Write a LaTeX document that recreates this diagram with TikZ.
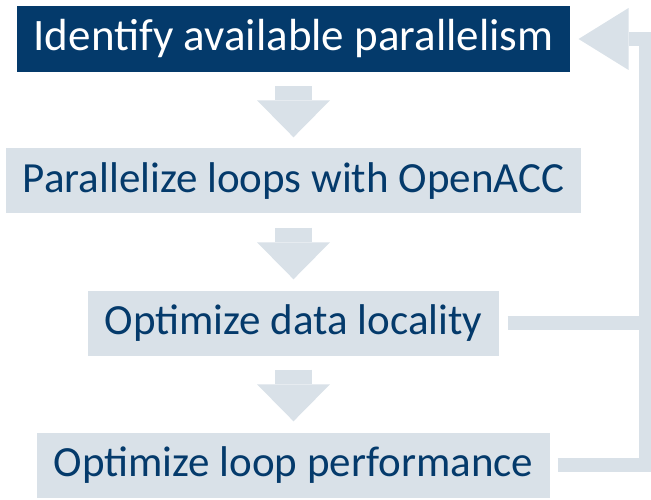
\documentclass[tikz,border=0pt]{standalone}
\usepackage{fontspec}
\setmainfont{Carlito}
\usepackage{xcolor}
\usetikzlibrary{positioning, arrows.meta}
\definecolor{navy}{RGB}{4,58,107}
\definecolor{pale}{RGB}{217,225,232}

\begin{document}
\begin{tikzpicture}[x=1pt, y=1pt, node distance=142pt, auto]
    % Styles
    \tikzset{
        start/.style = {rectangle, fill=navy, text=white, font=\fontsize{45}{48}\selectfont, inner xsep=17pt, minimum height=66pt},
        stage/.style = {rectangle, fill=pale, text=navy, font=\fontsize{43}{46}\selectfont, inner xsep=17pt, minimum height=65pt},
        flow/.style  = {draw=pale, line width=37pt, -{Triangle[length=37pt, width=73pt, line width=0pt]}},
        back/.style  = {draw=pale, line width=14pt}
    }
    \useasboundingbox (0,0) rectangle (651,499);

    % Steps
    \node [start] (ident) at (293.5,460) {Identify available parallelism};
    \node [stage, below of=ident] (paral) {Parallelize loops with OpenACC};
    \node [stage, below of=paral] (optdata) {Optimize data locality};
    \node [stage, below of=optdata] (optloop) {Optimize loop performance};
    \coordinate (rail) at (646,460);

    % Arrows
    \path [flow] ([yshift=-14pt]ident.south) -- ([yshift=11pt]paral.north);
    \path [flow] ([yshift=-14pt]paral.south) -- ([yshift=11pt]optdata.north);
    \path [flow] ([yshift=-14pt]optdata.south) -- ([yshift=11pt]optloop.north);
    \path [back] ([xshift=8pt]optdata.east) -- (optdata.east -| rail);
    \path [back, -{Triangle[length=50pt, width=62pt, line width=0pt]}] ([xshift=7pt]optloop.east) -| (rail) -- ([xshift=8pt]ident.east);
\end{tikzpicture}
\end{document}
